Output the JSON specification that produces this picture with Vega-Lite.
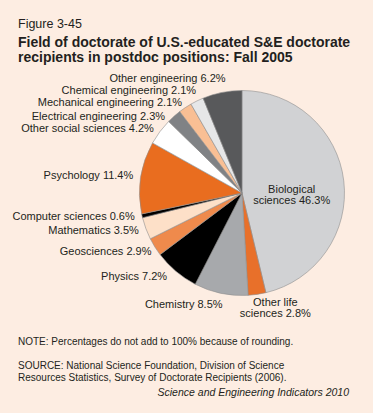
{
  "$schema": "https://vega.github.io/schema/vega-lite/v6.json",
  "width": 448,
  "height": 226,
  "autosize": {"type": "none"},
  "padding": {"left": 18, "top": 80, "right": -93, "bottom": 107},
  "background": "#fdede2",
  "config": {"view": {"stroke": null}, "font": "Liberation Sans", "text": {"font": "Liberation Sans", "fontSize": 11, "color": "#231f20"}},
  "layer": [
    {
      "data": {"values": [{"t": "Figure 3-45"}]},
      "mark": {"type": "text", "align": "left", "baseline": "middle", "x": 0, "y": -56, "fontSize": 12.5},
      "encoding": {"text": {"field": "t", "type": "nominal"}}
    },
    {
      "data": {"values": [{"t": "Field of doctorate of U.S.-educated S&E doctorate\nrecipients in postdoc positions: Fall 2005"}]},
      "mark": {"type": "text", "align": "left", "baseline": "middle", "x": 0, "y": -37.5, "fontSize": 14, "fontWeight": "bold", "lineBreak": "\n", "lineHeight": 15},
      "encoding": {"text": {"field": "t", "type": "nominal"}}
    },
    {
      "data": {
        "values": [
          {"i": 1, "name": "Biological sciences", "pct": 46.3, "label": "Biological\nsciences 46.3%"},
          {"i": 2, "name": "Other life sciences", "pct": 2.8, "label": "Other life\nsciences 2.8%"},
          {"i": 3, "name": "Chemistry", "pct": 8.5, "label": "Chemistry 8.5%"},
          {"i": 4, "name": "Physics", "pct": 7.2, "label": "Physics 7.2%"},
          {"i": 5, "name": "Geosciences", "pct": 2.9, "label": "Geosciences 2.9%"},
          {"i": 6, "name": "Mathematics", "pct": 3.5, "label": "Mathematics 3.5%"},
          {"i": 7, "name": "Computer sciences", "pct": 0.6, "label": "Computer sciences 0.6%"},
          {"i": 8, "name": "Psychology", "pct": 11.4, "label": "Psychology 11.4%"},
          {"i": 9, "name": "Other social sciences", "pct": 4.2, "label": "Other social sciences 4.2%"},
          {"i": 10, "name": "Electrical engineering", "pct": 2.3, "label": "Electrical engineering 2.3%"},
          {"i": 11, "name": "Mechanical engineering", "pct": 2.1, "label": "Mechanical engineering 2.1%"},
          {"i": 12, "name": "Chemical engineering", "pct": 2.1, "label": "Chemical engineering 2.1%"},
          {"i": 13, "name": "Other engineering", "pct": 6.2, "label": "Other engineering 6.2%"}
        ]
      },
      "encoding": {
        "theta": {"field": "pct", "type": "quantitative", "stack": true},
        "order": {"field": "i", "type": "quantitative"}
      },
      "layer": [
        {
          "mark": {"type": "arc", "outerRadius": 102.5, "stroke": "#8f8f8f", "strokeWidth": 0.6},
          "encoding": {
            "color": {
              "field": "name",
              "type": "nominal",
              "legend": null,
              "scale": {
                "domain": ["Biological sciences", "Other life sciences", "Chemistry", "Physics", "Geosciences", "Mathematics", "Computer sciences", "Psychology", "Other social sciences", "Electrical engineering", "Mechanical engineering", "Chemical engineering", "Other engineering"],
                "range": ["#d1d2d4", "#e8702a", "#a7a9ac", "#000000", "#ef8a4c", "#fde0c8", "#000000", "#e96d1f", "#ffffff", "#808285", "#f9bf94", "#e6e7e8", "#58595b"]
              }
            }
          }
        },
        {
          "mark": {"type": "text", "radius": 110, "align": "right", "baseline": "middle"},
          "encoding": {
            "text": {"condition": {"test": "indexof(['Computer sciences','Psychology','Mathematics'], datum.name) >= 0", "field": "label", "type": "nominal"}, "value": ""}
          }
        },
        {
          "mark": {"type": "text", "radius": 110, "align": "right", "baseline": "middle", "dx": 3, "dy": 1.5},
          "encoding": {
            "text": {"condition": {"test": "datum.name == 'Geosciences'", "field": "label", "type": "nominal"}, "value": ""}
          }
        },
        {
          "mark": {"type": "text", "radius": 110, "align": "right", "baseline": "middle", "dx": -4},
          "encoding": {
            "text": {"condition": {"test": "datum.name == 'Physics'", "field": "label", "type": "nominal"}, "value": ""}
          }
        },
        {
          "mark": {"type": "text", "radius": 110, "align": "right", "baseline": "middle", "dy": 2},
          "encoding": {
            "text": {"condition": {"test": "datum.name == 'Other social sciences'", "field": "label", "type": "nominal"}, "value": ""}
          }
        },
        {
          "mark": {"type": "text", "radius": 110, "align": "right", "baseline": "middle", "dx": -4, "dy": 6},
          "encoding": {
            "text": {"condition": {"test": "datum.name == 'Electrical engineering'", "field": "label", "type": "nominal"}, "value": ""}
          }
        },
        {
          "mark": {"type": "text", "radius": 110, "align": "right", "baseline": "middle", "dx": 1, "dy": 1.5},
          "encoding": {
            "text": {"condition": {"test": "datum.name == 'Mechanical engineering'", "field": "label", "type": "nominal"}, "value": ""}
          }
        },
        {
          "mark": {"type": "text", "radius": 110, "align": "right", "baseline": "middle", "dx": 2.5, "dy": -3},
          "encoding": {
            "text": {"condition": {"test": "datum.name == 'Chemical engineering'", "field": "label", "type": "nominal"}, "value": ""}
          }
        },
        {
          "mark": {"type": "text", "radius": 114, "align": "right", "baseline": "middle", "dx": 4},
          "encoding": {
            "text": {"condition": {"test": "datum.name == 'Chemistry'", "field": "label", "type": "nominal"}, "value": ""}
          }
        },
        {
          "mark": {"type": "text", "radius": 116, "align": "right", "baseline": "middle", "dx": 6},
          "encoding": {
            "text": {"condition": {"test": "datum.name == 'Other engineering'", "field": "label", "type": "nominal"}, "value": ""}
          }
        },
        {
          "mark": {"type": "text", "radius": 118, "align": "center", "baseline": "middle", "dx": 16, "dy": -7, "lineBreak": "\n", "lineHeight": 11},
          "encoding": {
            "text": {"condition": {"test": "datum.name == 'Other life sciences'", "field": "label", "type": "nominal"}, "value": ""}
          }
        },
        {
          "mark": {"type": "text", "radius": 50, "align": "center", "baseline": "middle", "dy": 3, "lineBreak": "\n", "lineHeight": 11},
          "encoding": {
            "text": {"condition": {"test": "datum.name == 'Biological sciences'", "field": "label", "type": "nominal"}, "value": ""}
          }
        }
      ]
    },
    {
      "data": {"values": [{"t": "NOTE: Percentages do not add to 100% because of rounding."}]},
      "mark": {"type": "text", "align": "left", "baseline": "middle", "x": 0, "y": 261.7, "fontSize": 10},
      "encoding": {"text": {"field": "t", "type": "nominal"}}
    },
    {
      "data": {"values": [{"t": "SOURCE: National Science Foundation, Division of Science\nResources Statistics, Survey of Doctorate Recipients (2006)."}]},
      "mark": {"type": "text", "align": "left", "baseline": "middle", "x": 0, "y": 285.5, "fontSize": 10, "lineBreak": "\n", "lineHeight": 12},
      "encoding": {"text": {"field": "t", "type": "nominal"}}
    },
    {
      "data": {"values": [{"t": "Science and Engineering Indicators 2010"}]},
      "mark": {"type": "text", "align": "right", "baseline": "middle", "x": 331, "y": 312.5, "fontSize": 10.5, "fontStyle": "italic"},
      "encoding": {"text": {"field": "t", "type": "nominal"}}
    }
  ]
}
